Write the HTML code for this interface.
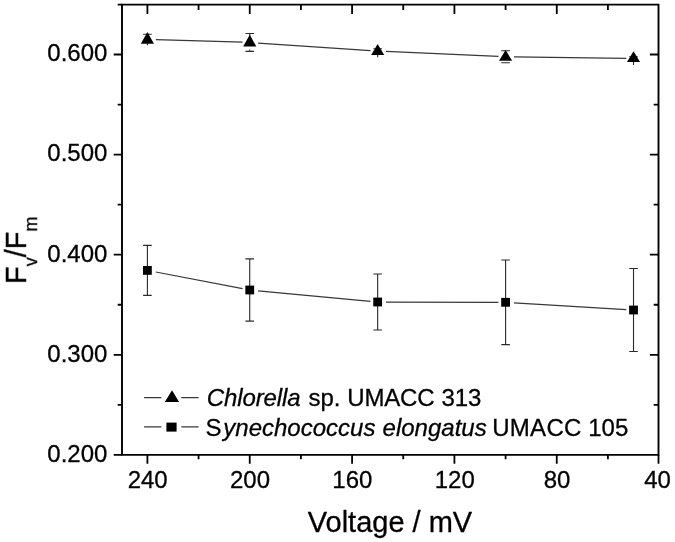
<!DOCTYPE html>
<html><head><meta charset="utf-8"><title>Fv/Fm vs Voltage</title>
<style>html,body{margin:0;padding:0;background:#fff;}body{width:675px;height:542px;overflow:hidden;font-family:"Liberation Sans",sans-serif;}svg{display:block;}</style>
</head><body>
<svg width="675" height="542" viewBox="0 0 675 542">
<rect width="675" height="542" fill="#fff"/>
<g stroke="#000" stroke-width="1.9" fill="none" stroke-linecap="butt">
<path d="M122.0 4.6H658.5M122.0 454.9H658.5M122.0 3.6499999999999995V455.84999999999997M658.5 3.6499999999999995V455.84999999999997"/>
</g>
<g stroke="#000" stroke-width="1.8" fill="none">
<path d="M147.40 454.9v8.9M147.40 4.6v9.4M198.57 454.9v4.4M198.57 4.6v5.3M249.74 454.9v8.9M249.74 4.6v9.4M300.91 454.9v4.4M300.91 4.6v5.3M352.08 454.9v8.9M352.08 4.6v9.4M403.25 454.9v4.4M403.25 4.6v5.3M454.42 454.9v8.9M454.42 4.6v9.4M505.59 454.9v4.4M505.59 4.6v5.3M556.76 454.9v8.9M556.76 4.6v9.4M607.93 454.9v4.4M607.93 4.6v5.3M658.50 454.9v8.9M122.0 454.90h-8.3M122.0 404.85h-4.3M658.5 404.85h-4.8M122.0 354.80h-8.3M658.5 354.80h-8.6M122.0 304.75h-4.3M658.5 304.75h-4.8M122.0 254.70h-8.3M658.5 254.70h-8.6M122.0 204.65h-4.3M658.5 204.65h-4.8M122.0 154.60h-8.3M658.5 154.60h-8.6M122.0 104.55h-4.3M658.5 104.55h-4.8M122.0 54.50h-8.3M658.5 54.50h-8.6M122.0 4.60h-4.3"/>
</g>
<path d="M155.80 39.65L242.54 42.24M258.14 43.02L370.46 50.61M386.06 51.47L498.39 56.38M513.99 56.82L626.31 58.40M155.80 272.01L242.54 288.62M258.14 290.79L370.46 301.32M386.06 302.02L498.39 302.28M513.99 302.81L626.31 309.57" stroke="#383838" stroke-width="1.25" fill="none"/>
<path d="M147.40 245.40V295.40M143.10 245.40h8.6M143.10 295.40h8.6M249.74 258.90V321.10M245.44 258.90h8.6M245.44 321.10h8.6M377.66 274.05V329.95M373.36 274.05h8.6M373.36 329.95h8.6M505.59 260.00V344.60M501.29 260.00h8.6M501.29 344.60h8.6M633.51 268.50V351.50M629.22 268.50h8.6M629.22 351.50h8.6M143.10 34.20h8.6M147.40 34.20V45.20M245.44 33.50h8.6M249.74 33.50V36.00M249.74 49.60V51.40M245.44 51.40h8.6M373.36 48.80h8.6M377.66 48.80V57.20M501.29 50.80h8.6M505.59 50.80V53.00M501.29 62.70h8.6M629.22 56.80h8.6M633.51 56.80V65.10" stroke="#2a2a2a" stroke-width="1.1" fill="none"/>
<g fill="#000">
<rect x="143.00" y="266.00" width="8.8" height="8.8"/>
<rect x="245.34" y="285.60" width="8.8" height="8.8"/>
<rect x="373.26" y="297.60" width="8.8" height="8.8"/>
<rect x="501.19" y="297.90" width="8.8" height="8.8"/>
<rect x="629.12" y="305.60" width="8.8" height="8.8"/>
<path d="M147.40 31.90L153.95 43.80H140.85Z"/>
<path d="M249.74 34.70L256.29 46.40H243.19Z"/>
<path d="M377.66 44.05L384.21 54.90H371.11Z"/>
<path d="M505.59 49.90L512.14 60.80H499.04Z"/>
<path d="M633.51 51.30L640.06 62.00H626.97Z"/>
</g>
<path d="M144.1 397.6H161.3M181.3 397.6H198.6M144.1 426.9H161.3M181.3 426.9H198.6" stroke="#383838" stroke-width="1.3" fill="none"/>
<path d="M172.0 390.2L179.1 401.9H164.8Z" fill="#000"/>
<rect x="166.4" y="422.6" width="10.2" height="9.0" fill="#000"/>
<g font-family="Liberation Sans, sans-serif" fill="#000" stroke="#000" stroke-width="0.3" opacity="0.999">
<text y="405.6" font-size="24"><tspan x="206.7" font-style="italic" letter-spacing="-0.1">Chlorella</tspan><tspan x="308.4">sp.</tspan><tspan x="347.3" letter-spacing="-0.2">UMACC</tspan><tspan x="441.4">313</tspan></text>
<text y="436.2" font-size="24"><tspan x="205.6">S</tspan><tspan x="223.3" font-style="italic">ynechococcus</tspan><tspan x="382.6" font-style="italic">elongatus</tspan><tspan x="492.2" letter-spacing="0.3">UMACC</tspan><tspan x="588.2">105</tspan></text>
<text x="147.70" y="488.1" font-size="24" text-anchor="middle">240</text>
<text x="250.04" y="488.1" font-size="24" text-anchor="middle">200</text>
<text x="352.38" y="488.1" font-size="24" text-anchor="middle">160</text>
<text x="454.72" y="488.1" font-size="24" text-anchor="middle">120</text>
<text x="557.06" y="488.1" font-size="24" text-anchor="middle">80</text>
<text x="657.60" y="488.1" font-size="24" text-anchor="middle">40</text>
<text x="107.4" y="461.75" font-size="24" text-anchor="end">0.200</text>
<text x="107.4" y="361.65" font-size="24" text-anchor="end">0.300</text>
<text x="107.4" y="261.55" font-size="24" text-anchor="end">0.400</text>
<text x="107.4" y="161.45" font-size="24" text-anchor="end">0.500</text>
<text x="107.4" y="61.35" font-size="24" text-anchor="end">0.600</text>
<text x="390" y="532" font-size="29" text-anchor="middle">Voltage / mV</text>
<g transform="translate(26 284.1) rotate(-90)"><text x="0" y="0" font-size="29">F<tspan font-size="18" dy="11">v</tspan><tspan dy="-11">/F</tspan><tspan font-size="18" dy="11">m</tspan></text></g>
</g>
</svg>
</body></html>
